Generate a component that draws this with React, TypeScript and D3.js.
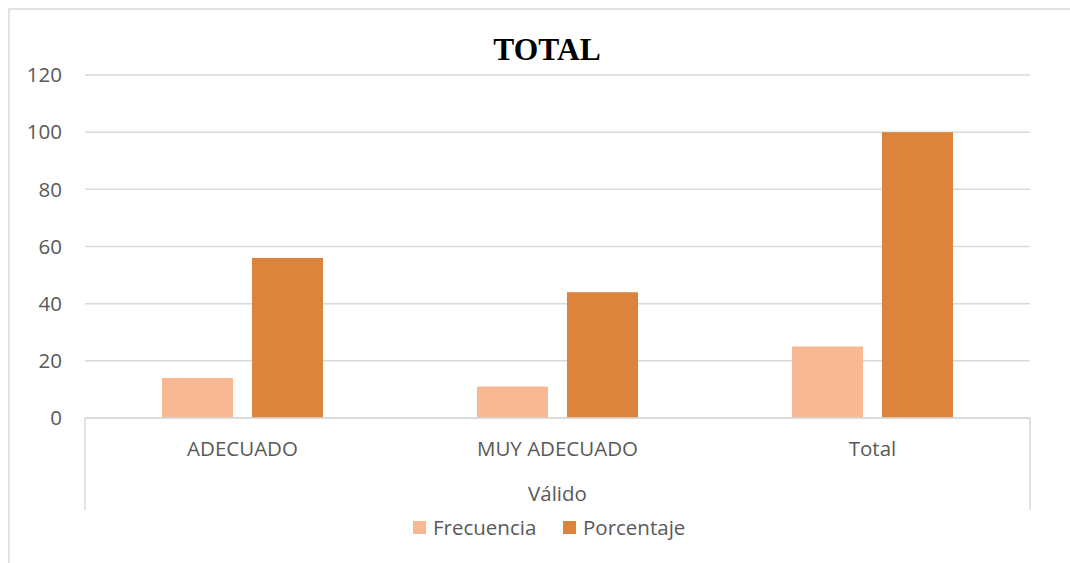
import React from "react";
import * as d3 from "d3";

const categories = ["ADECUADO", "MUY ADECUADO", "Total"];
const seriesNames = ["Frecuencia", "Porcentaje"];
const frecuencia = [14, 11, 25];
const porcentaje = [56, 44, 100];
const yTicks = [0, 20, 40, 60, 80, 100, 120];
const colors = ["#F9B894", "#DC843B"];

const W = 1070;
const H = 563;
const left = 85;
const right = 1030;
const top = 75;
const bottom = 418;

function App() {
  const x = d3.scaleBand<string>().domain(categories).range([left, right]).padding(0);
  const xs = d3
    .scaleBand<string>()
    .domain(seriesNames)
    .range([0, x.bandwidth()])
    .paddingInner(0.211)
    .paddingOuter(0.856);
  const y = d3.scaleLinear().domain([0, 120]).range([bottom, top]);
  const values = [frecuencia, porcentaje];
  const font = "'Open Sans', 'Liberation Sans', sans-serif";
  const fs = 20.5;

  return (
    <svg
      width={W}
      height={H}
      style={{ position: "absolute", left: 0, top: 0, background: "#fff" }}
    >
      {/* chart frame */}
      <rect x={9} y={9} width={1070} height={600} fill="none" stroke="#d9d9d9" strokeWidth={1.5} />
      <text
        x={547}
        y={60}
        textAnchor="middle"
        fontFamily="'Liberation Serif', 'Times New Roman', serif"
        fontWeight="bold"
        fontSize={31.5}
        fill="#000"
      >
        TOTAL
      </text>

      {yTicks.map((t) => (
        <g key={t}>
          <line x1={left} x2={right} y1={y(t)} y2={y(t)} stroke="#d9d9d9" strokeWidth={1.5} />
          <text
            x={62}
            y={y(t)}
            dy="0.35em"
            textAnchor="end"
            fontFamily={font}
            fontSize={fs}
            fill="#595959"
          >
            {t}
          </text>
        </g>
      ))}

      {categories.map((c, i) =>
        seriesNames.map((s, j) => (
          <rect
            key={c + s}
            x={(x(c) ?? 0) + (xs(s) ?? 0)}
            y={y(values[j][i])}
            width={xs.bandwidth()}
            height={bottom - y(values[j][i])}
            fill={colors[j]}
          />
        ))
      )}

      {/* category axis */}
      <line x1={left} x2={right} y1={bottom} y2={bottom} stroke="#d9d9d9" strokeWidth={1.5} />
      <line x1={left} x2={left} y1={bottom} y2={510} stroke="#d9d9d9" strokeWidth={1.5} />
      <line x1={right} x2={right} y1={bottom} y2={510} stroke="#d9d9d9" strokeWidth={1.5} />
      {categories.map((c) => (
        <text
          key={c}
          x={(x(c) ?? 0) + x.bandwidth() / 2}
          y={449}
          dy="0.35em"
          textAnchor="middle"
          fontFamily={font}
          fontSize={fs}
          fill="#595959"
        >
          {c}
        </text>
      ))}
      <text
        x={(left + right) / 2}
        y={494}
        dy="0.35em"
        textAnchor="middle"
        fontFamily={font}
        fontSize={fs}
        fill="#595959"
      >
        Válido
      </text>

      {/* legend */}
      {seriesNames.map((s, j) => {
        const lx = j === 0 ? 413 : 563;
        return (
          <g key={s}>
            <rect x={lx} y={521} width={13} height={13} fill={colors[j]} />
            <text
              x={lx + 20}
              y={528}
              dy="0.35em"
              fontFamily={font}
              fontSize={fs}
              fill="#595959"
            >
              {s}
            </text>
          </g>
        );
      })}
    </svg>
  );
}

export default App;
